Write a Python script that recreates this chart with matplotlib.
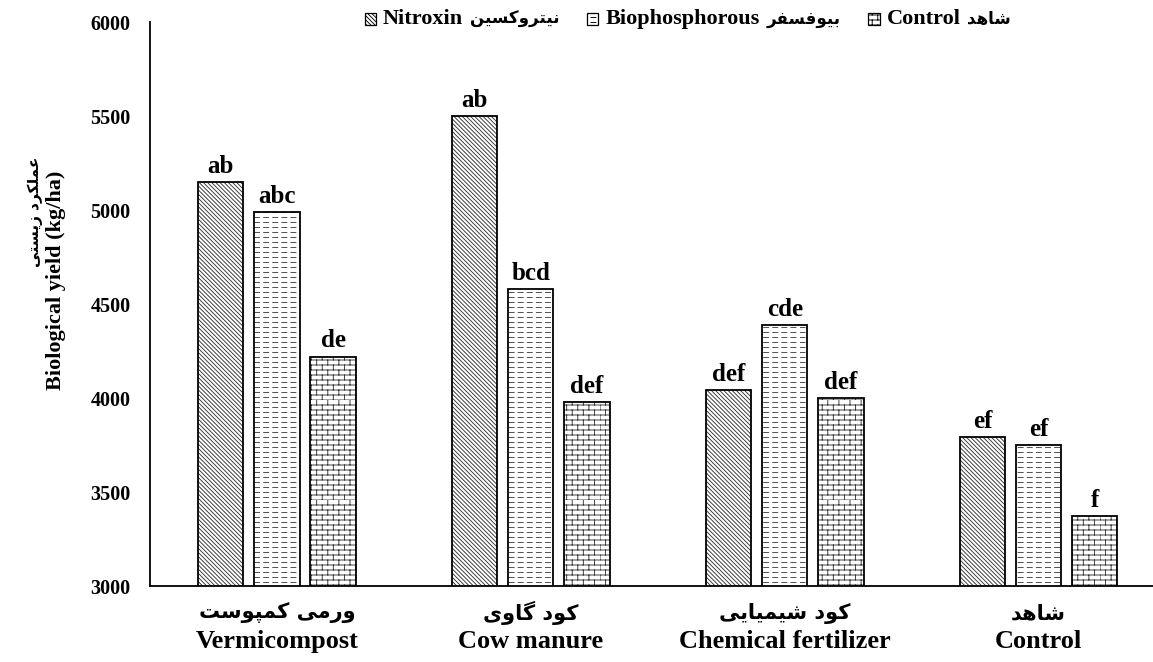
import numpy as np
import matplotlib
matplotlib.use("Agg")
import matplotlib.pyplot as plt
import matplotlib.hatch as mhatch
from matplotlib.path import Path
from matplotlib.patches import Rectangle
from matplotlib.offsetbox import HPacker, TextArea, DrawingArea, AnchoredOffsetbox

# ---------------- data ----------------
cat_fa = ["ورمی کمپوست", "کود گاوی", "کود شیمیایی", "شاهد"]
cat_en = ["Vermicompost", "Cow manure", "Chemical fertilizer", "Control"]
series_en = ["Nitroxin", "Biophosphorous", "Control"]
series_fa = ["نیتروکسین", "بیوفسفر", "شاهد"]
nitroxin = [5150, 5500, 4040, 3790]
biophos = [4990, 4580, 4390, 3750]
control = [4220, 3980, 4000, 3370]
let_nitroxin = ["ab", "ab", "def", "ef"]
let_biophos = ["abc", "bcd", "cde", "ef"]
let_control = ["de", "def", "def", "f"]
yticks = [3000, 3500, 4000, 4500, 5000, 5500, 6000]
ylabel_fa = "عملکرد زیستی"
ylabel_en = "Biological yield (kg/ha)"

# ---------------- Persian shaping (presentation forms) ----------------
AR_FORMS = {
    'ا': ('\uFE8D', '\uFE8E', None, None),
    'ب': ('\uFE8F', '\uFE90', '\uFE91', '\uFE92'),
    'پ': ('\uFB56', '\uFB57', '\uFB58', '\uFB59'),
    'ت': ('\uFE95', '\uFE96', '\uFE97', '\uFE98'),
    'د': ('\uFEA9', '\uFEAA', None, None),
    'ر': ('\uFEAD', '\uFEAE', None, None),
    'ز': ('\uFEAF', '\uFEB0', None, None),
    'س': ('\uFEB1', '\uFEB2', '\uFEB3', '\uFEB4'),
    'ش': ('\uFEB5', '\uFEB6', '\uFEB7', '\uFEB8'),
    'ع': ('\uFEC9', '\uFECA', '\uFECB', '\uFECC'),
    'ف': ('\uFED1', '\uFED2', '\uFED3', '\uFED4'),
    'ک': ('\uFB8E', '\uFB8F', '\uFB90', '\uFB91'),
    'گ': ('\uFB92', '\uFB93', '\uFB94', '\uFB95'),
    'ل': ('\uFEDD', '\uFEDE', '\uFEDF', '\uFEE0'),
    'م': ('\uFEE1', '\uFEE2', '\uFEE3', '\uFEE4'),
    'ن': ('\uFEE5', '\uFEE6', '\uFEE7', '\uFEE8'),
    'ه': ('\uFEE9', '\uFEEA', '\uFEEB', '\uFEEC'),
    'و': ('\uFEED', '\uFEEE', None, None),
    'ی': ('\uFBFC', '\uFBFD', '\uFBFE', '\uFBFF'),
}


def shape(text):
    out = []
    n = len(text)
    for i, ch in enumerate(text):
        if ch not in AR_FORMS:
            out.append(ch)
            continue
        forms = AR_FORMS[ch]
        prev = text[i - 1] if i > 0 else None
        nxt = text[i + 1] if i < n - 1 else None
        join_prev = prev in AR_FORMS and AR_FORMS[prev][2] is not None
        join_next = forms[2] is not None and nxt in AR_FORMS
        if join_prev and join_next:
            f = forms[3]
        elif join_prev:
            f = forms[1]
        elif join_next:
            f = forms[2]
        else:
            f = forms[0]
        out.append(f)
    return ''.join(reversed(out))


# ---------------- custom hatches (dashed lines, bricks) ----------------
class DashHatch(mhatch.HatchPatternBase):
    # triggered by 'o'
    def __init__(self, hatch, density):
        self.rows = 20 if 'o' in hatch else 0
        self.cols = 11
        self.num_vertices = self.rows * self.cols * 2

    def set_vertices_and_codes(self, vertices, codes):
        k = 0
        for r in range(self.rows):
            y = (r + 0.5) / self.rows
            for c in range(self.cols):
                x0 = c / self.cols
                vertices[k] = (x0, y)
                vertices[k + 1] = (x0 + 0.55 / self.cols, y)
                codes[k] = Path.MOVETO
                codes[k + 1] = Path.LINETO
                k += 2


class BrickHatch(mhatch.HatchPatternBase):
    # triggered by 'O'
    def __init__(self, hatch, density):
        self.rows = 20 if 'O' in hatch else 0
        self.cols = 9
        self.num_vertices = self.rows * 2 + self.rows * self.cols * 2

    def set_vertices_and_codes(self, vertices, codes):
        k = 0
        for r in range(self.rows):
            y = r / self.rows
            vertices[k] = (0, y)
            vertices[k + 1] = (1, y)
            codes[k] = Path.MOVETO
            codes[k + 1] = Path.LINETO
            k += 2
            off = 0.5 if r % 2 else 0.0
            for c in range(self.cols):
                x = (c + off) / self.cols
                vertices[k] = (x, y)
                vertices[k + 1] = (x, y + 1.0 / self.rows)
                codes[k] = Path.MOVETO
                codes[k + 1] = Path.LINETO
                k += 2


mhatch._hatch_types = [mhatch.HorizontalHatch, mhatch.VerticalHatch,
                       mhatch.NorthEastHatch, mhatch.SouthEastHatch,
                       DashHatch, BrickHatch]

plt.rcParams['hatch.linewidth'] = 0.65

SERIF = ['Liberation Serif', 'DejaVu Sans']
FA = ['DejaVu Sans']

fig = plt.figure(figsize=(11.53, 6.62), dpi=100)
ax = fig.add_axes([150 / 1153, 1 - 586 / 662, 1 - 150 / 1153, (586 - 22) / 662])

x = np.arange(len(cat_en))
width = 0.178
step = 0.221
series = [nitroxin, biophos, control]
letters = [let_nitroxin, let_biophos, let_control]
hatches = ['\\\\\\\\\\\\\\\\', 'o', 'O']
hcolors = ['#333333', '#444444', '#333333']

for i, (vals, labs, h, hc) in enumerate(zip(series, letters, hatches, hcolors)):
    xs = x + (i - 1) * step
    ax.bar(xs, vals, width, color='white', edgecolor=hc,
           hatch=h, linewidth=0, zorder=2)
    bars = ax.bar(xs, vals, width, fill=False, edgecolor='black',
                  linewidth=1.3, zorder=3)
    for b, lab in zip(bars, labs):
        ax.annotate(lab, (b.get_x() + b.get_width() / 2, b.get_height()),
                    xytext=(0, 3), textcoords='offset points',
                    ha='center', va='bottom', fontsize=18,
                    fontweight='bold', family=SERIF)

ax.set_ylim(3000, 6000)
ax.set_xlim(-0.5, 3.45)
ax.set_yticks(yticks)
ax.set_yticklabels([str(v) for v in yticks], fontsize=14.5,
                   fontweight='bold', family=SERIF)
ax.set_xticks(x)
ax.set_xticklabels(cat_en, fontsize=19, fontweight='bold', family=SERIF)
ax.tick_params(axis='y', length=0, pad=14)
ax.tick_params(axis='x', length=0, pad=32)
for xi, fa in zip(x, cat_fa):
    ax.text(xi, -27 / 564, shape(fa), transform=ax.get_xaxis_transform(),
            ha='center', va='center', fontsize=15, fontweight='bold',
            family=FA)
for s in ['top', 'right']:
    ax.spines[s].set_visible(False)
for s in ['left', 'bottom']:
    ax.spines[s].set_linewidth(1.3)
    ax.spines[s].set_color('black')

# y label: Persian line and English line
fig.text(35 / 1153, 1 - 212 / 662, shape(ylabel_fa), rotation=90,
         ha='center', va='center', fontsize=11, fontweight='bold', family=FA)
fig.text(56 / 1153, 1 - 280 / 662, ylabel_en, rotation=90,
         ha='center', va='center', fontsize=16, fontweight='bold', family=SERIF)

# legend built from packed boxes (English and Persian at their own sizes)
items = []
for h, en, fa in zip(hatches, series_en, series_fa):
    da = DrawingArea(8, 8, 0, 0)
    da.add_artist(Rectangle((0, 0), 8, 8, facecolor='white', edgecolor='black',
                            hatch=h, linewidth=0.9))
    t_en = TextArea(en, textprops=dict(family=SERIF, fontweight='bold', size=16))
    t_fa = TextArea(shape(fa), textprops=dict(family=FA, fontweight='bold', size=12))
    items.append(HPacker(children=[da, t_en, t_fa], align='center', pad=0, sep=5))
legbox = HPacker(children=items, align='center', pad=0, sep=20)
anch = AnchoredOffsetbox(loc='center', child=legbox, pad=0, borderpad=0,
                         bbox_to_anchor=(688 / 1153, 1 - 19 / 662),
                         bbox_transform=fig.transFigure, frameon=False)
fig.add_artist(anch)

fig.savefig('out.png', dpi=100)
